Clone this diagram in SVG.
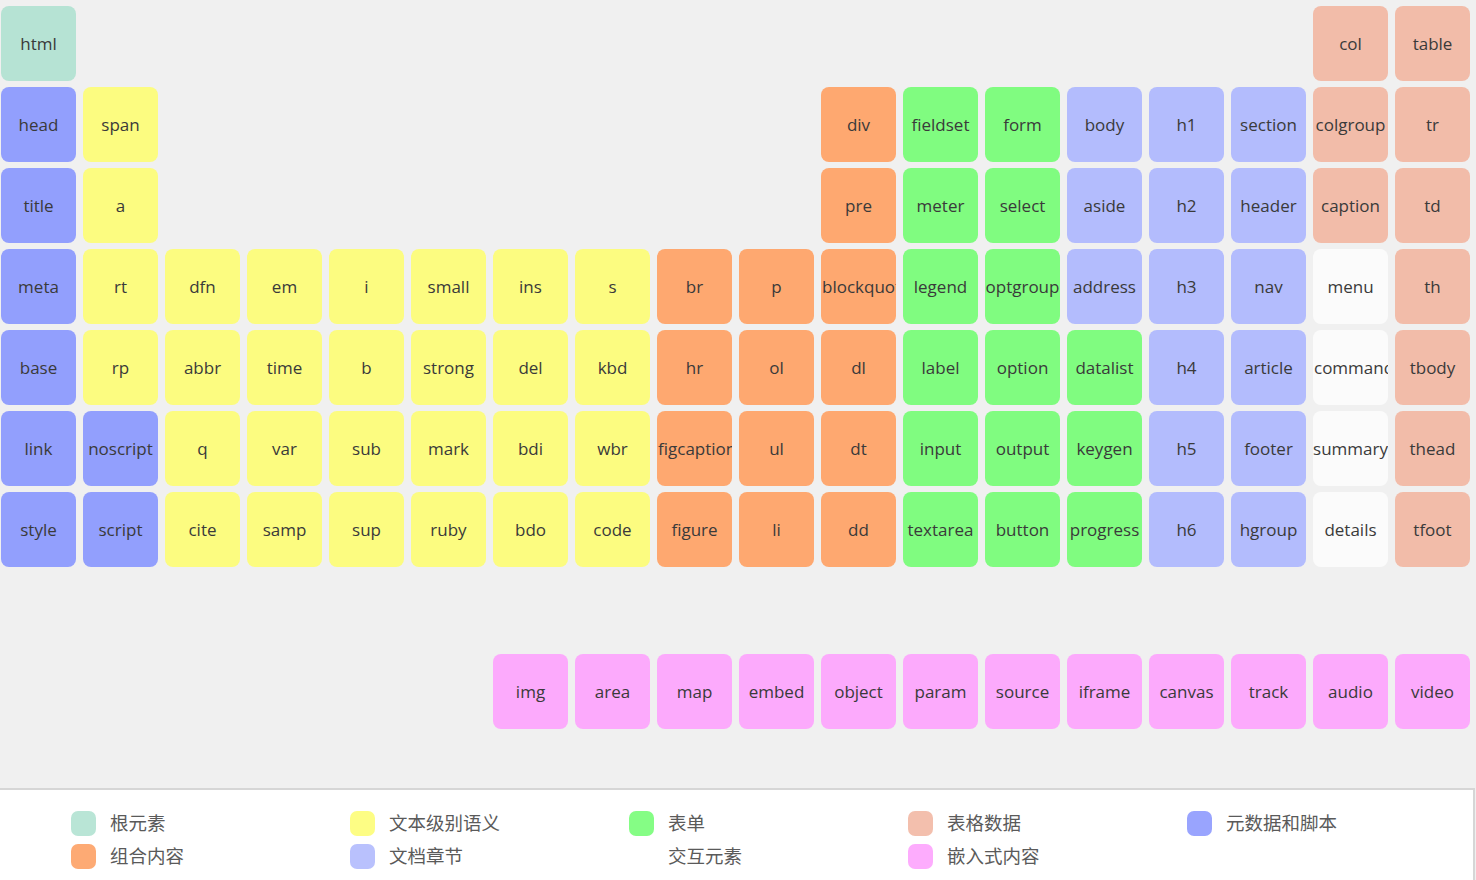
<svg xmlns="http://www.w3.org/2000/svg" width="1476" height="880" viewBox="0 0 1476 880">
<style>
.c rect{rx:8px;ry:8px}
.c text{font-family:"Open Sans","Noto Sans",sans-serif;font-size:17px;fill:#3a3a3a;text-anchor:middle}
.c text.l{text-anchor:start}
.root rect{fill:#b6e3d4}
.meta rect{fill:#929ffd}
.txt rect{fill:#fcfc80}
.grp rect{fill:#fea870}
.frm rect{fill:#80fc80}
.sec rect{fill:#b3bcfd}
.tbl rect{fill:#f2bca9}
.int rect{fill:#fbfbfb}
.emb rect{fill:#fcaafc}
.lg text{font-family:"Noto Sans CJK SC","Noto Sans",sans-serif;font-size:18.5px;fill:#5a5a5a}
</style>
<rect x="0" y="0" width="1476" height="880" fill="#f0f0f0"/>
<g id="nodes">
<g id="n-html" class="c root"><svg x="1" y="6" width="75" height="75"><rect width="75" height="75"/><text x="37.5" y="43.5">html</text></svg></g>
<g id="n-col" class="c tbl"><svg x="1313" y="6" width="75" height="75"><rect width="75" height="75"/><text x="37.5" y="43.5">col</text></svg></g>
<g id="n-table" class="c tbl"><svg x="1395" y="6" width="75" height="75"><rect width="75" height="75"/><text x="37.5" y="43.5">table</text></svg></g>

<g id="n-head" class="c meta"><svg x="1" y="87" width="75" height="75"><rect width="75" height="75"/><text x="37.5" y="43.5">head</text></svg></g>
<g id="n-span" class="c txt"><svg x="83" y="87" width="75" height="75"><rect width="75" height="75"/><text x="37.5" y="43.5">span</text></svg></g>
<g id="n-div" class="c grp"><svg x="821" y="87" width="75" height="75"><rect width="75" height="75"/><text x="37.5" y="43.5">div</text></svg></g>
<g id="n-fieldset" class="c frm"><svg x="903" y="87" width="75" height="75"><rect width="75" height="75"/><text x="37.5" y="43.5">fieldset</text></svg></g>
<g id="n-form" class="c frm"><svg x="985" y="87" width="75" height="75"><rect width="75" height="75"/><text x="37.5" y="43.5">form</text></svg></g>
<g id="n-body" class="c sec"><svg x="1067" y="87" width="75" height="75"><rect width="75" height="75"/><text x="37.5" y="43.5">body</text></svg></g>
<g id="n-h1" class="c sec"><svg x="1149" y="87" width="75" height="75"><rect width="75" height="75"/><text x="37.5" y="43.5">h1</text></svg></g>
<g id="n-section" class="c sec"><svg x="1231" y="87" width="75" height="75"><rect width="75" height="75"/><text x="37.5" y="43.5">section</text></svg></g>
<g id="n-colgroup" class="c tbl"><svg x="1313" y="87" width="75" height="75"><rect width="75" height="75"/><text x="37.5" y="43.5">colgroup</text></svg></g>
<g id="n-tr" class="c tbl"><svg x="1395" y="87" width="75" height="75"><rect width="75" height="75"/><text x="37.5" y="43.5">tr</text></svg></g>

<g id="n-title" class="c meta"><svg x="1" y="168" width="75" height="75"><rect width="75" height="75"/><text x="37.5" y="43.5">title</text></svg></g>
<g id="n-a" class="c txt"><svg x="83" y="168" width="75" height="75"><rect width="75" height="75"/><text x="37.5" y="43.5">a</text></svg></g>
<g id="n-pre" class="c grp"><svg x="821" y="168" width="75" height="75"><rect width="75" height="75"/><text x="37.5" y="43.5">pre</text></svg></g>
<g id="n-meter" class="c frm"><svg x="903" y="168" width="75" height="75"><rect width="75" height="75"/><text x="37.5" y="43.5">meter</text></svg></g>
<g id="n-select" class="c frm"><svg x="985" y="168" width="75" height="75"><rect width="75" height="75"/><text x="37.5" y="43.5">select</text></svg></g>
<g id="n-aside" class="c sec"><svg x="1067" y="168" width="75" height="75"><rect width="75" height="75"/><text x="37.5" y="43.5">aside</text></svg></g>
<g id="n-h2" class="c sec"><svg x="1149" y="168" width="75" height="75"><rect width="75" height="75"/><text x="37.5" y="43.5">h2</text></svg></g>
<g id="n-header" class="c sec"><svg x="1231" y="168" width="75" height="75"><rect width="75" height="75"/><text x="37.5" y="43.5">header</text></svg></g>
<g id="n-caption" class="c tbl"><svg x="1313" y="168" width="75" height="75"><rect width="75" height="75"/><text x="37.5" y="43.5">caption</text></svg></g>
<g id="n-td" class="c tbl"><svg x="1395" y="168" width="75" height="75"><rect width="75" height="75"/><text x="37.5" y="43.5">td</text></svg></g>

<g id="n-meta" class="c meta"><svg x="1" y="249" width="75" height="75"><rect width="75" height="75"/><text x="37.5" y="43.5">meta</text></svg></g>
<g id="n-rt" class="c txt"><svg x="83" y="249" width="75" height="75"><rect width="75" height="75"/><text x="37.5" y="43.5">rt</text></svg></g>
<g id="n-dfn" class="c txt"><svg x="165" y="249" width="75" height="75"><rect width="75" height="75"/><text x="37.5" y="43.5">dfn</text></svg></g>
<g id="n-em" class="c txt"><svg x="247" y="249" width="75" height="75"><rect width="75" height="75"/><text x="37.5" y="43.5">em</text></svg></g>
<g id="n-i" class="c txt"><svg x="329" y="249" width="75" height="75"><rect width="75" height="75"/><text x="37.5" y="43.5">i</text></svg></g>
<g id="n-small" class="c txt"><svg x="411" y="249" width="75" height="75"><rect width="75" height="75"/><text x="37.5" y="43.5">small</text></svg></g>
<g id="n-ins" class="c txt"><svg x="493" y="249" width="75" height="75"><rect width="75" height="75"/><text x="37.5" y="43.5">ins</text></svg></g>
<g id="n-s" class="c txt"><svg x="575" y="249" width="75" height="75"><rect width="75" height="75"/><text x="37.5" y="43.5">s</text></svg></g>
<g id="n-br" class="c grp"><svg x="657" y="249" width="75" height="75"><rect width="75" height="75"/><text x="37.5" y="43.5">br</text></svg></g>
<g id="n-p" class="c grp"><svg x="739" y="249" width="75" height="75"><rect width="75" height="75"/><text x="37.5" y="43.5">p</text></svg></g>
<g id="n-blockquote" class="c grp"><svg x="821" y="249" width="75" height="75"><rect width="75" height="75"/><text class="l" x="1" y="43.5">blockquote</text></svg></g>
<g id="n-legend" class="c frm"><svg x="903" y="249" width="75" height="75"><rect width="75" height="75"/><text x="37.5" y="43.5">legend</text></svg></g>
<g id="n-optgroup" class="c frm"><svg x="985" y="249" width="75" height="75"><rect width="75" height="75"/><text x="37.5" y="43.5">optgroup</text></svg></g>
<g id="n-address" class="c sec"><svg x="1067" y="249" width="75" height="75"><rect width="75" height="75"/><text x="37.5" y="43.5">address</text></svg></g>
<g id="n-h3" class="c sec"><svg x="1149" y="249" width="75" height="75"><rect width="75" height="75"/><text x="37.5" y="43.5">h3</text></svg></g>
<g id="n-nav" class="c sec"><svg x="1231" y="249" width="75" height="75"><rect width="75" height="75"/><text x="37.5" y="43.5">nav</text></svg></g>
<g id="n-menu" class="c int"><svg x="1313" y="249" width="75" height="75"><rect width="75" height="75"/><text x="37.5" y="43.5">menu</text></svg></g>
<g id="n-th" class="c tbl"><svg x="1395" y="249" width="75" height="75"><rect width="75" height="75"/><text x="37.5" y="43.5">th</text></svg></g>

<g id="n-base" class="c meta"><svg x="1" y="330" width="75" height="75"><rect width="75" height="75"/><text x="37.5" y="43.5">base</text></svg></g>
<g id="n-rp" class="c txt"><svg x="83" y="330" width="75" height="75"><rect width="75" height="75"/><text x="37.5" y="43.5">rp</text></svg></g>
<g id="n-abbr" class="c txt"><svg x="165" y="330" width="75" height="75"><rect width="75" height="75"/><text x="37.5" y="43.5">abbr</text></svg></g>
<g id="n-time" class="c txt"><svg x="247" y="330" width="75" height="75"><rect width="75" height="75"/><text x="37.5" y="43.5">time</text></svg></g>
<g id="n-b" class="c txt"><svg x="329" y="330" width="75" height="75"><rect width="75" height="75"/><text x="37.5" y="43.5">b</text></svg></g>
<g id="n-strong" class="c txt"><svg x="411" y="330" width="75" height="75"><rect width="75" height="75"/><text x="37.5" y="43.5">strong</text></svg></g>
<g id="n-del" class="c txt"><svg x="493" y="330" width="75" height="75"><rect width="75" height="75"/><text x="37.5" y="43.5">del</text></svg></g>
<g id="n-kbd" class="c txt"><svg x="575" y="330" width="75" height="75"><rect width="75" height="75"/><text x="37.5" y="43.5">kbd</text></svg></g>
<g id="n-hr" class="c grp"><svg x="657" y="330" width="75" height="75"><rect width="75" height="75"/><text x="37.5" y="43.5">hr</text></svg></g>
<g id="n-ol" class="c grp"><svg x="739" y="330" width="75" height="75"><rect width="75" height="75"/><text x="37.5" y="43.5">ol</text></svg></g>
<g id="n-dl" class="c grp"><svg x="821" y="330" width="75" height="75"><rect width="75" height="75"/><text x="37.5" y="43.5">dl</text></svg></g>
<g id="n-label" class="c frm"><svg x="903" y="330" width="75" height="75"><rect width="75" height="75"/><text x="37.5" y="43.5">label</text></svg></g>
<g id="n-option" class="c frm"><svg x="985" y="330" width="75" height="75"><rect width="75" height="75"/><text x="37.5" y="43.5">option</text></svg></g>
<g id="n-datalist" class="c frm"><svg x="1067" y="330" width="75" height="75"><rect width="75" height="75"/><text x="37.5" y="43.5">datalist</text></svg></g>
<g id="n-h4" class="c sec"><svg x="1149" y="330" width="75" height="75"><rect width="75" height="75"/><text x="37.5" y="43.5">h4</text></svg></g>
<g id="n-article" class="c sec"><svg x="1231" y="330" width="75" height="75"><rect width="75" height="75"/><text x="37.5" y="43.5">article</text></svg></g>
<g id="n-command" class="c int"><svg x="1313" y="330" width="75" height="75"><rect width="75" height="75"/><text class="l" x="1" y="43.5">command</text></svg></g>
<g id="n-tbody" class="c tbl"><svg x="1395" y="330" width="75" height="75"><rect width="75" height="75"/><text x="37.5" y="43.5">tbody</text></svg></g>

<g id="n-link" class="c meta"><svg x="1" y="411" width="75" height="75"><rect width="75" height="75"/><text x="37.5" y="43.5">link</text></svg></g>
<g id="n-noscript" class="c meta"><svg x="83" y="411" width="75" height="75"><rect width="75" height="75"/><text x="37.5" y="43.5">noscript</text></svg></g>
<g id="n-q" class="c txt"><svg x="165" y="411" width="75" height="75"><rect width="75" height="75"/><text x="37.5" y="43.5">q</text></svg></g>
<g id="n-var" class="c txt"><svg x="247" y="411" width="75" height="75"><rect width="75" height="75"/><text x="37.5" y="43.5">var</text></svg></g>
<g id="n-sub" class="c txt"><svg x="329" y="411" width="75" height="75"><rect width="75" height="75"/><text x="37.5" y="43.5">sub</text></svg></g>
<g id="n-mark" class="c txt"><svg x="411" y="411" width="75" height="75"><rect width="75" height="75"/><text x="37.5" y="43.5">mark</text></svg></g>
<g id="n-bdi" class="c txt"><svg x="493" y="411" width="75" height="75"><rect width="75" height="75"/><text x="37.5" y="43.5">bdi</text></svg></g>
<g id="n-wbr" class="c txt"><svg x="575" y="411" width="75" height="75"><rect width="75" height="75"/><text x="37.5" y="43.5">wbr</text></svg></g>
<g id="n-figcaption" class="c grp"><svg x="657" y="411" width="75" height="75"><rect width="75" height="75"/><text class="l" x="1" y="43.5">figcaption</text></svg></g>
<g id="n-ul" class="c grp"><svg x="739" y="411" width="75" height="75"><rect width="75" height="75"/><text x="37.5" y="43.5">ul</text></svg></g>
<g id="n-dt" class="c grp"><svg x="821" y="411" width="75" height="75"><rect width="75" height="75"/><text x="37.5" y="43.5">dt</text></svg></g>
<g id="n-input" class="c frm"><svg x="903" y="411" width="75" height="75"><rect width="75" height="75"/><text x="37.5" y="43.5">input</text></svg></g>
<g id="n-output" class="c frm"><svg x="985" y="411" width="75" height="75"><rect width="75" height="75"/><text x="37.5" y="43.5">output</text></svg></g>
<g id="n-keygen" class="c frm"><svg x="1067" y="411" width="75" height="75"><rect width="75" height="75"/><text x="37.5" y="43.5">keygen</text></svg></g>
<g id="n-h5" class="c sec"><svg x="1149" y="411" width="75" height="75"><rect width="75" height="75"/><text x="37.5" y="43.5">h5</text></svg></g>
<g id="n-footer" class="c sec"><svg x="1231" y="411" width="75" height="75"><rect width="75" height="75"/><text x="37.5" y="43.5">footer</text></svg></g>
<g id="n-summary" class="c int"><svg x="1313" y="411" width="75" height="75"><rect width="75" height="75"/><text x="37.5" y="43.5">summary</text></svg></g>
<g id="n-thead" class="c tbl"><svg x="1395" y="411" width="75" height="75"><rect width="75" height="75"/><text x="37.5" y="43.5">thead</text></svg></g>

<g id="n-style" class="c meta"><svg x="1" y="492" width="75" height="75"><rect width="75" height="75"/><text x="37.5" y="43.5">style</text></svg></g>
<g id="n-script" class="c meta"><svg x="83" y="492" width="75" height="75"><rect width="75" height="75"/><text x="37.5" y="43.5">script</text></svg></g>
<g id="n-cite" class="c txt"><svg x="165" y="492" width="75" height="75"><rect width="75" height="75"/><text x="37.5" y="43.5">cite</text></svg></g>
<g id="n-samp" class="c txt"><svg x="247" y="492" width="75" height="75"><rect width="75" height="75"/><text x="37.5" y="43.5">samp</text></svg></g>
<g id="n-sup" class="c txt"><svg x="329" y="492" width="75" height="75"><rect width="75" height="75"/><text x="37.5" y="43.5">sup</text></svg></g>
<g id="n-ruby" class="c txt"><svg x="411" y="492" width="75" height="75"><rect width="75" height="75"/><text x="37.5" y="43.5">ruby</text></svg></g>
<g id="n-bdo" class="c txt"><svg x="493" y="492" width="75" height="75"><rect width="75" height="75"/><text x="37.5" y="43.5">bdo</text></svg></g>
<g id="n-code" class="c txt"><svg x="575" y="492" width="75" height="75"><rect width="75" height="75"/><text x="37.5" y="43.5">code</text></svg></g>
<g id="n-figure" class="c grp"><svg x="657" y="492" width="75" height="75"><rect width="75" height="75"/><text x="37.5" y="43.5">figure</text></svg></g>
<g id="n-li" class="c grp"><svg x="739" y="492" width="75" height="75"><rect width="75" height="75"/><text x="37.5" y="43.5">li</text></svg></g>
<g id="n-dd" class="c grp"><svg x="821" y="492" width="75" height="75"><rect width="75" height="75"/><text x="37.5" y="43.5">dd</text></svg></g>
<g id="n-textarea" class="c frm"><svg x="903" y="492" width="75" height="75"><rect width="75" height="75"/><text x="37.5" y="43.5">textarea</text></svg></g>
<g id="n-button" class="c frm"><svg x="985" y="492" width="75" height="75"><rect width="75" height="75"/><text x="37.5" y="43.5">button</text></svg></g>
<g id="n-progress" class="c frm"><svg x="1067" y="492" width="75" height="75"><rect width="75" height="75"/><text x="37.5" y="43.5">progress</text></svg></g>
<g id="n-h6" class="c sec"><svg x="1149" y="492" width="75" height="75"><rect width="75" height="75"/><text x="37.5" y="43.5">h6</text></svg></g>
<g id="n-hgroup" class="c sec"><svg x="1231" y="492" width="75" height="75"><rect width="75" height="75"/><text x="37.5" y="43.5">hgroup</text></svg></g>
<g id="n-details" class="c int"><svg x="1313" y="492" width="75" height="75"><rect width="75" height="75"/><text x="37.5" y="43.5">details</text></svg></g>
<g id="n-tfoot" class="c tbl"><svg x="1395" y="492" width="75" height="75"><rect width="75" height="75"/><text x="37.5" y="43.5">tfoot</text></svg></g>

<g id="n-img" class="c emb"><svg x="493" y="654" width="75" height="75"><rect width="75" height="75"/><text x="37.5" y="43.5">img</text></svg></g>
<g id="n-area" class="c emb"><svg x="575" y="654" width="75" height="75"><rect width="75" height="75"/><text x="37.5" y="43.5">area</text></svg></g>
<g id="n-map" class="c emb"><svg x="657" y="654" width="75" height="75"><rect width="75" height="75"/><text x="37.5" y="43.5">map</text></svg></g>
<g id="n-embed" class="c emb"><svg x="739" y="654" width="75" height="75"><rect width="75" height="75"/><text x="37.5" y="43.5">embed</text></svg></g>
<g id="n-object" class="c emb"><svg x="821" y="654" width="75" height="75"><rect width="75" height="75"/><text x="37.5" y="43.5">object</text></svg></g>
<g id="n-param" class="c emb"><svg x="903" y="654" width="75" height="75"><rect width="75" height="75"/><text x="37.5" y="43.5">param</text></svg></g>
<g id="n-source" class="c emb"><svg x="985" y="654" width="75" height="75"><rect width="75" height="75"/><text x="37.5" y="43.5">source</text></svg></g>
<g id="n-iframe" class="c emb"><svg x="1067" y="654" width="75" height="75"><rect width="75" height="75"/><text x="37.5" y="43.5">iframe</text></svg></g>
<g id="n-canvas" class="c emb"><svg x="1149" y="654" width="75" height="75"><rect width="75" height="75"/><text x="37.5" y="43.5">canvas</text></svg></g>
<g id="n-track" class="c emb"><svg x="1231" y="654" width="75" height="75"><rect width="75" height="75"/><text x="37.5" y="43.5">track</text></svg></g>
<g id="n-audio" class="c emb"><svg x="1313" y="654" width="75" height="75"><rect width="75" height="75"/><text x="37.5" y="43.5">audio</text></svg></g>
<g id="n-video" class="c emb"><svg x="1395" y="654" width="75" height="75"><rect width="75" height="75"/><text x="37.5" y="43.5">video</text></svg></g>
</g>
<g id="connectors"/>
<g id="legend" class="lg">
<rect x="-2" y="789" width="1476" height="100" fill="#ffffff" stroke="#d6d6d6" stroke-width="2"/>
<rect x="71" y="811" width="25" height="25" rx="7" fill="#b9e5d6"/><text x="110" y="830">根元素</text>
<rect x="71" y="844" width="25" height="25" rx="7" fill="#fdaa74"/><text x="110" y="863">组合内容</text>
<rect x="350" y="811" width="25" height="25" rx="7" fill="#fdfd84"/><text x="389" y="830">文本级别语义</text>
<rect x="350" y="844" width="25" height="25" rx="7" fill="#b9c1fd"/><text x="389" y="863">文档章节</text>
<rect x="629" y="811" width="25" height="25" rx="7" fill="#85fd85"/><text x="668" y="830">表单</text>
<text x="668" y="863">交互元素</text>
<rect x="908" y="811" width="25" height="25" rx="7" fill="#f3bfad"/><text x="947" y="830">表格数据</text>
<rect x="908" y="844" width="25" height="25" rx="7" fill="#fdacfd"/><text x="947" y="863">嵌入式内容</text>
<rect x="1187" y="811" width="25" height="25" rx="7" fill="#99a4fe"/><text x="1226" y="830">元数据和脚本</text>
</g>
</svg>
